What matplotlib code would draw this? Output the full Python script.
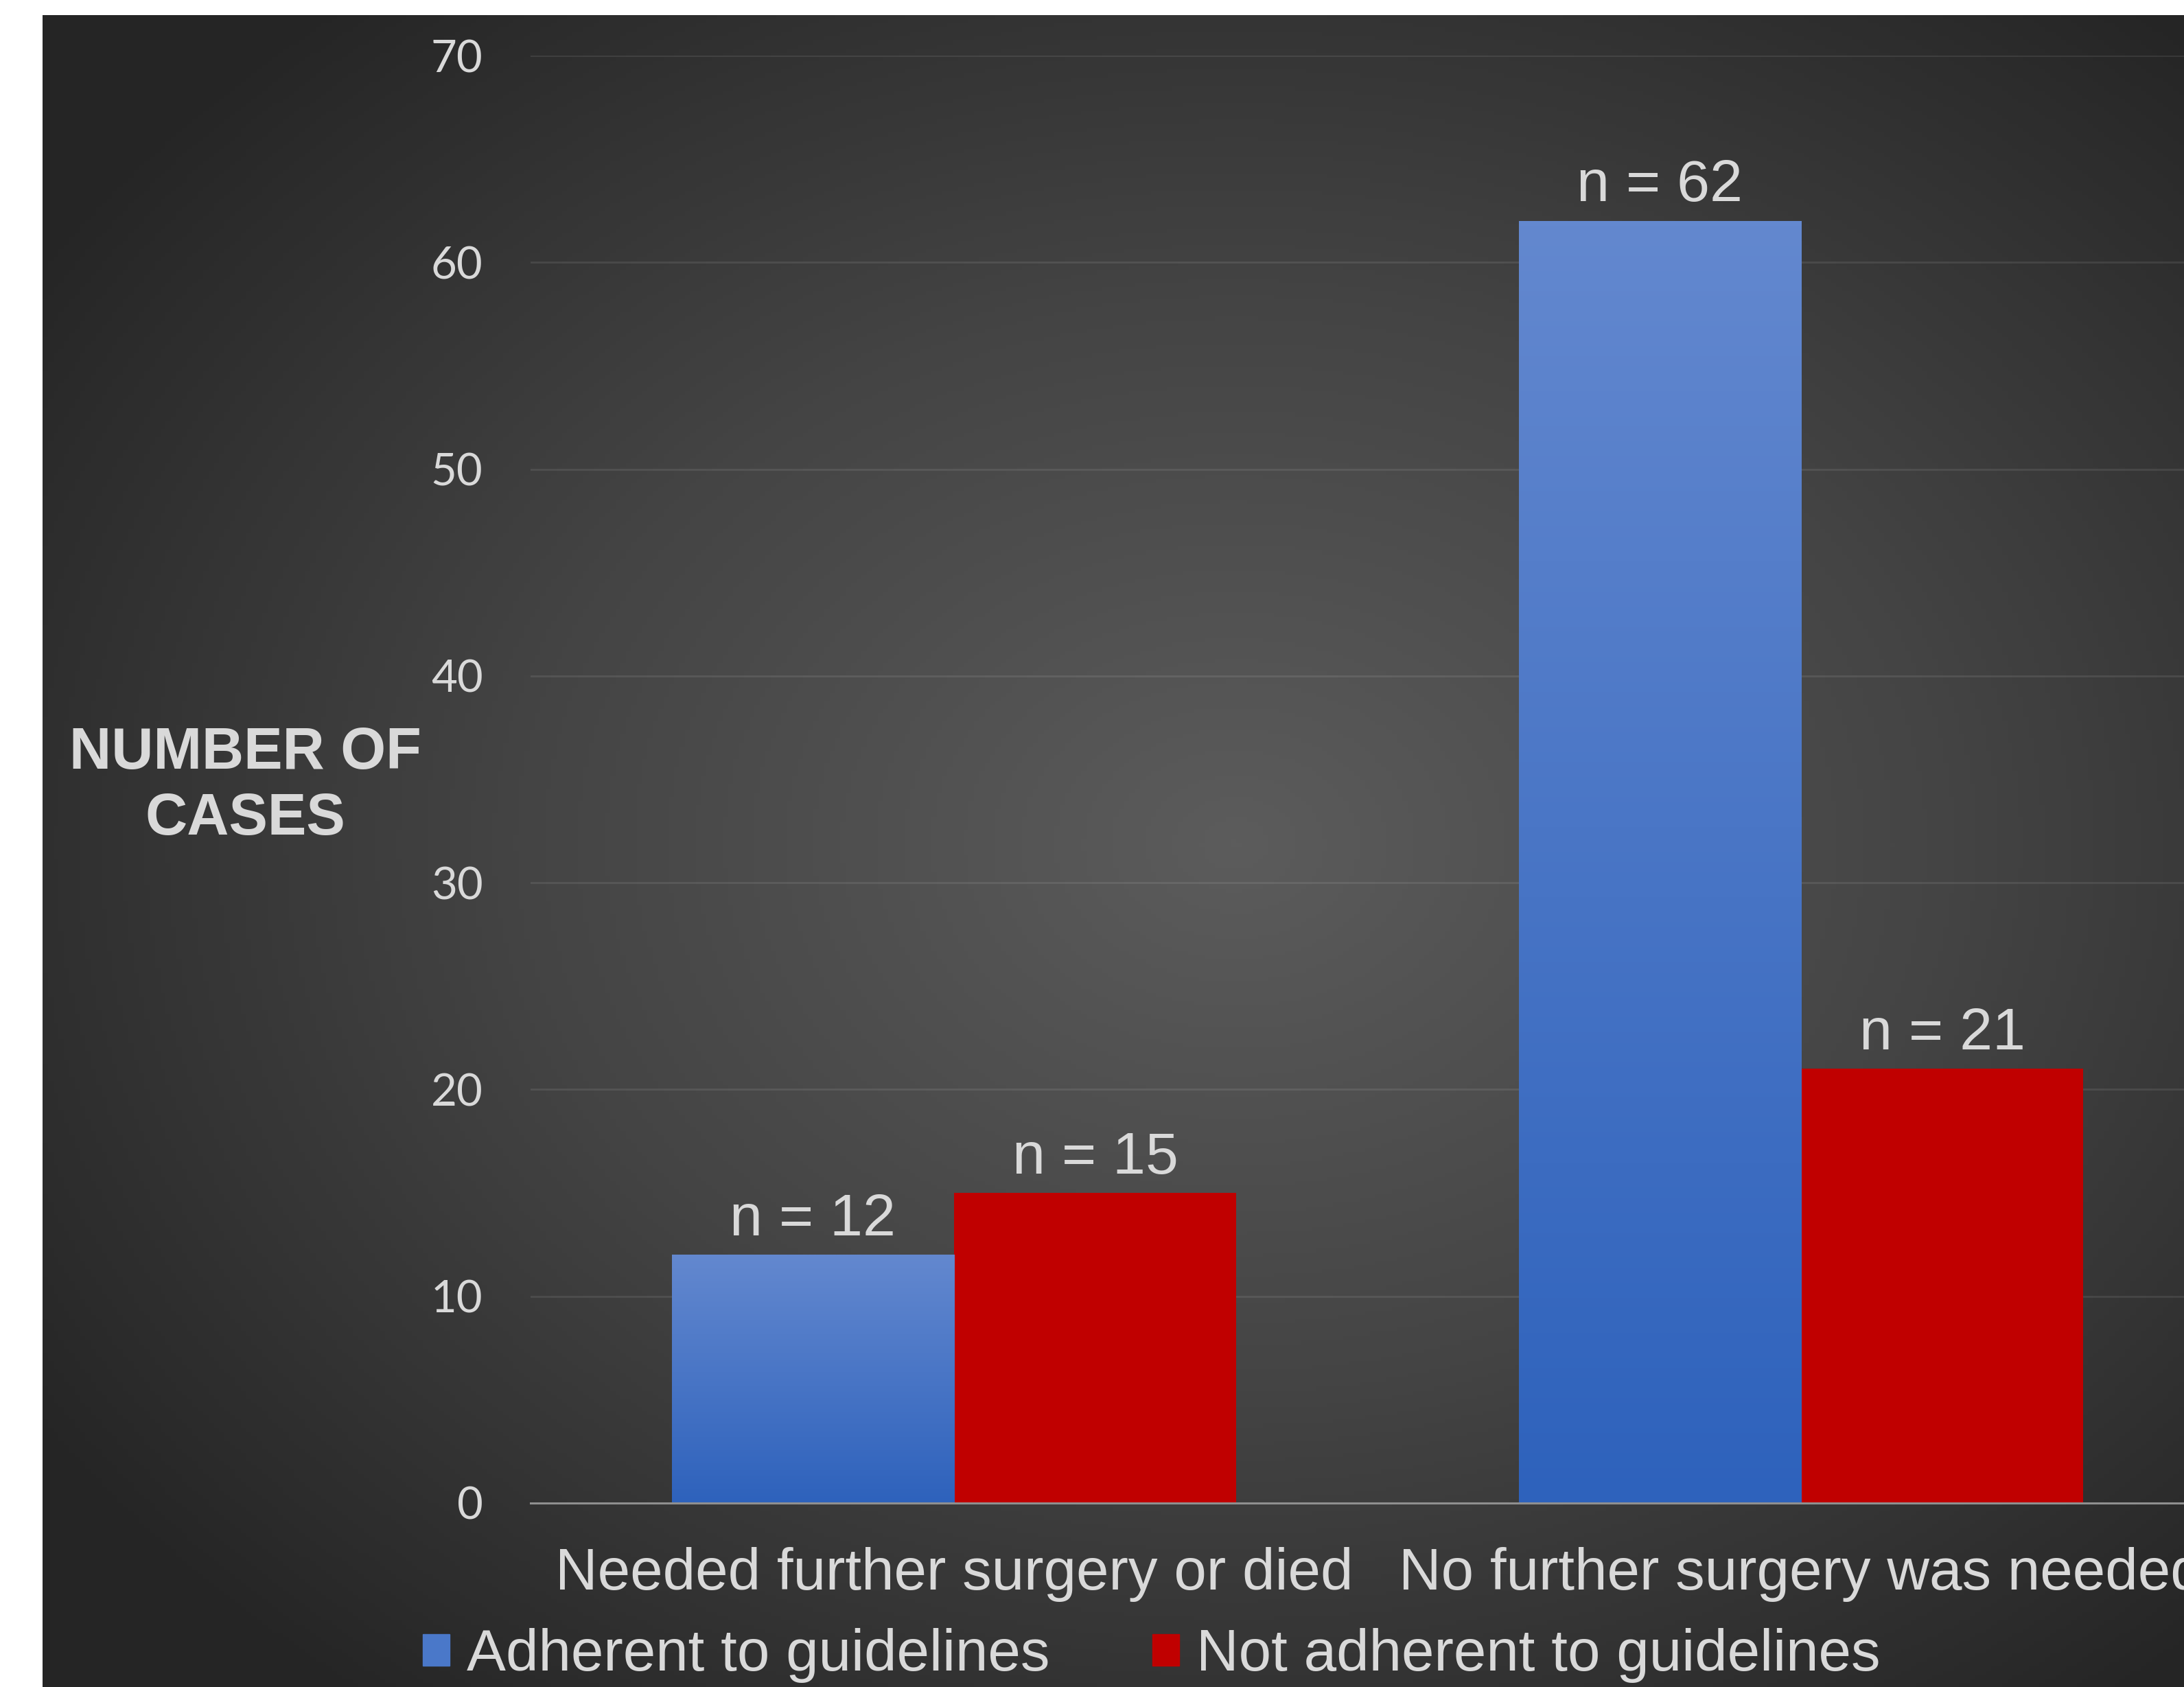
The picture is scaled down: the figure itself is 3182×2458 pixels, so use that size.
import numpy as np
from matplotlib import pyplot as plt
from matplotlib.colors import LinearSegmentedColormap

# Data
categories = ['Needed further surgery or died', 'No further surgery was needed']
adherent = [12, 62]
not_adherent = [15, 21]
series_names = ['Adherent to guidelines', 'Not adherent to guidelines']
yticks = [0, 10, 20, 30, 40, 50, 60, 70]

W, H = 3182, 2458
txt = '#d9d9d9'
red = '#c00000'

fig = plt.figure(figsize=(W / 100, H / 100), dpi=100)
fig.patch.set_facecolor('white')

# Dark radial background
bg = fig.add_axes([62 / W, 0, 1 - 62 / W, 1 - 22 / H])
bg.set_axis_off()
xx, yy = np.meshgrid(np.linspace(62, W, 400), np.linspace(22, H, 400))
d = np.sqrt(((xx - 1800) / 2100) ** 2 + ((yy - 1230) / 1600) ** 2)
d = np.clip(d, 0, 1)
bgcmap = LinearSegmentedColormap.from_list('bg', ['#5c5c5c', '#444444', '#252525'])
bg.imshow(d, cmap=bgcmap, vmin=0, vmax=1, aspect='auto', extent=[0, 1, 0, 1])
bg.set_xlim(0, 1)
bg.set_ylim(0, 1)

# Main chart
ax = fig.add_axes([773 / W, 1 - 2190 / H, (3241 - 773) / W, (2190 - 81) / H])
ax.patch.set_alpha(0)
x = np.arange(len(categories))
w = 1 / 3.0

bars1 = ax.bar(x - w / 2, adherent, w, color='#4a78c9', zorder=3)
bars2 = ax.bar(x + w / 2, not_adherent, w, color=red, zorder=3)

# vertical gradient in the blue bars
grad = np.linspace(0, 1, 256).reshape(-1, 1)
bluecmap = LinearSegmentedColormap.from_list('bl', ['#2e62bc', '#6388cf'])
for b in bars1:
    b.set_facecolor('none')
    im = ax.imshow(grad, cmap=bluecmap, aspect='auto', origin='lower', zorder=3,
                   extent=[b.get_x(), b.get_x() + b.get_width(), 0, b.get_height()])
    im.set_clip_path(b)

for b, v in zip(list(bars1) + list(bars2), adherent + not_adherent):
    ax.text(b.get_x() + b.get_width() / 2, v + 0.35, 'n = %d' % v, ha='center', va='bottom',
            color=txt, fontsize=62, family='Liberation Sans', zorder=4)

ax.set_xlim(-0.5, 1.5)
ax.set_ylim(0, 70)
ax.set_yticks(yticks)
ax.set_xticks(x)
ax.set_xticklabels(categories, family='Liberation Sans', fontsize=61.5, color=txt)
for lab in ax.get_yticklabels():
    lab.set_family('Lato')
    lab.set_fontsize(47)
    lab.set_color(txt)
ax.tick_params(axis='y', length=0, pad=50)
ax.tick_params(axis='x', length=0, pad=46)
ax.grid(axis='y', color='white', alpha=0.09, linewidth=2.0, zorder=0)
ax.set_axisbelow(True)
for s in ['top', 'right', 'left']:
    ax.spines[s].set_visible(False)
ax.spines['bottom'].set_color('#8f8f8f')
ax.spines['bottom'].set_linewidth(2.2)
ax.spines['bottom'].set_zorder(5)

# Axis title
fig.text(357 / W, 1 - 1146 / H, 'NUMBER OF\nCASES', ha='center', va='center', color=txt,
         fontsize=61, fontweight='bold', family='Liberation Sans', linespacing=1.25)

# Legend
h1 = plt.Rectangle((0, 0), 1, 1, color='#4a78c9')
h2 = plt.Rectangle((0, 0), 1, 1, color=red)
leg = fig.legend([h1, h2], series_names, loc='center', bbox_to_anchor=(1678 / W, 1 - 2412 / H),
                 ncol=2, frameon=False, prop={'family': 'Liberation Sans', 'size': 61.5},
                 handlelength=0.45, handleheight=0.45, handletextpad=0.3, columnspacing=1.75)
for t in leg.get_texts():
    t.set_color(txt)

plt.savefig('out.png', dpi=100)
